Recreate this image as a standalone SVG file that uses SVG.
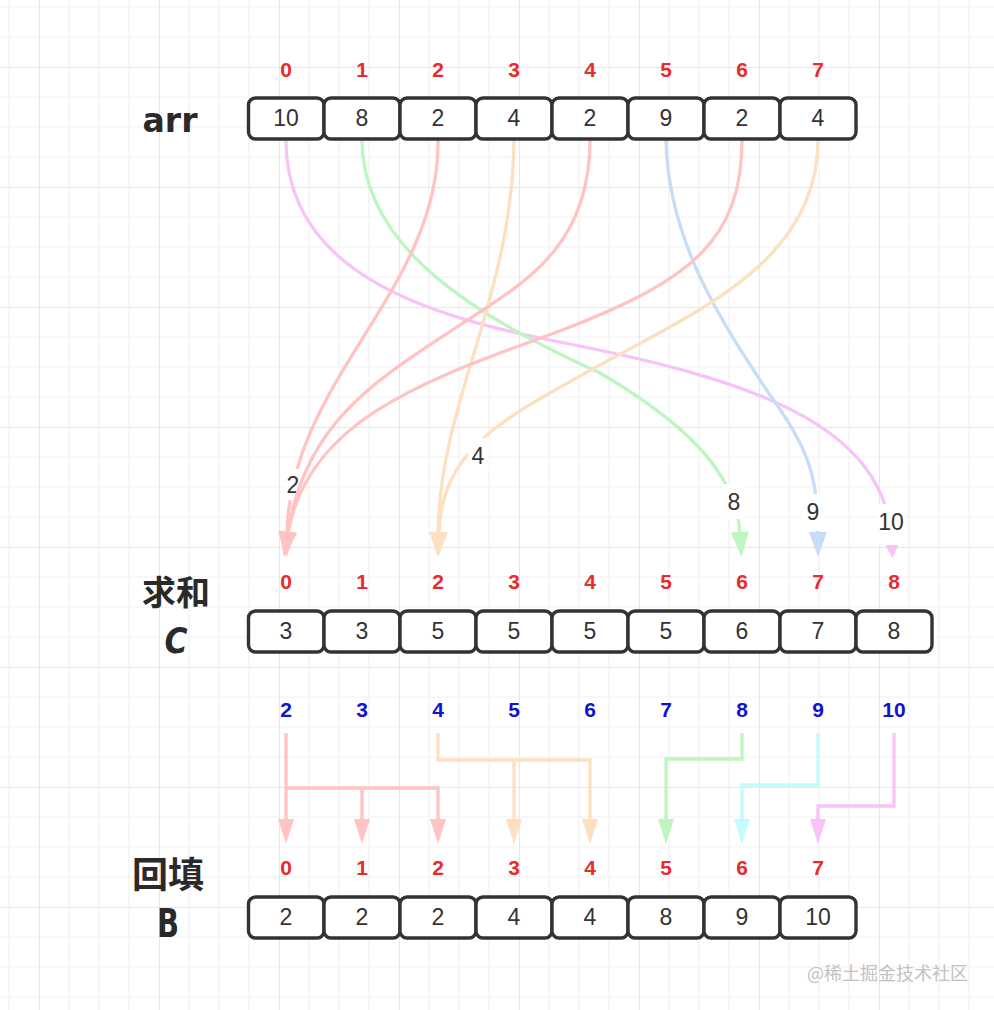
<svg xmlns="http://www.w3.org/2000/svg" width="994" height="1010" viewBox="0 0 994 1010">
<style>
.box{fill:#fff;stroke:#333;stroke-width:3.4}
.val{font-family:"Liberation Sans",Arial,sans-serif;font-size:23px;fill:#333;text-anchor:middle}
.idx{font-family:"Liberation Sans",Arial,sans-serif;font-size:21px;font-weight:bold;fill:#e92b2b;text-anchor:middle}
.bidx{font-family:"Liberation Sans",Arial,sans-serif;font-size:21px;font-weight:bold;fill:#1212d0;text-anchor:middle}
.ttl{font-family:"DejaVu Sans","Noto Sans CJK SC",sans-serif;font-weight:bold;fill:#2a2a2a;text-anchor:middle}
.lbl{font-family:"Liberation Sans",Arial,sans-serif;font-size:23px;fill:#333;text-anchor:middle}
.lbg{fill:#fff}
.c{fill:none;stroke-width:3.3}
.red{stroke:#ffc3c3}.org{stroke:#fde0c0}.grn{stroke:#bdf6c0}.blu{stroke:#c6dcf7}.pnk{stroke:#f7c3f8}.cyn{stroke:#c4fbfb}
</style>
<defs>
<pattern id="grid" patternUnits="userSpaceOnUse" x="39" y="67" width="120" height="120">
<path d="M30,0V120M60,0V120M90,0V120M0,30H120M0,60H120M0,90H120" stroke="#f1f1f1" stroke-width="1.2" fill="none"/>
<path d="M0,0V120M0,0H120" stroke="#e6e6e6" stroke-width="2" fill="none"/>
</pattern>
<marker id="m-red" markerUnits="userSpaceOnUse" markerWidth="26" markerHeight="20" refX="1" refY="9" orient="auto" overflow="visible"><path d="M0,0L25,9L0,18z" fill="#ffc3c3"/></marker>
<marker id="m-org" markerUnits="userSpaceOnUse" markerWidth="26" markerHeight="20" refX="1" refY="9" orient="auto" overflow="visible"><path d="M0,0L25,9L0,18z" fill="#fde0c0"/></marker>
<marker id="m-grn" markerUnits="userSpaceOnUse" markerWidth="26" markerHeight="20" refX="1" refY="9" orient="auto" overflow="visible"><path d="M0,0L25,9L0,18z" fill="#bdf6c0"/></marker>
<marker id="m-blu" markerUnits="userSpaceOnUse" markerWidth="26" markerHeight="20" refX="1" refY="9" orient="auto" overflow="visible"><path d="M0,0L25,9L0,18z" fill="#c6dcf7"/></marker>
<marker id="m-pnk" markerUnits="userSpaceOnUse" markerWidth="16" markerHeight="16" refX="1" refY="7" orient="auto" overflow="visible"><path d="M0,0L14,7L0,14z" fill="#f7c3f8"/></marker>
<marker id="m-redb" markerUnits="userSpaceOnUse" markerWidth="26" markerHeight="18" refX="1" refY="8" orient="auto" overflow="visible"><path d="M0,0L25,8L0,16z" fill="#ffc3c3"/></marker>
<marker id="m-orgb" markerUnits="userSpaceOnUse" markerWidth="26" markerHeight="18" refX="1" refY="8" orient="auto" overflow="visible"><path d="M0,0L25,8L0,16z" fill="#fde0c0"/></marker>
<marker id="m-grnb" markerUnits="userSpaceOnUse" markerWidth="26" markerHeight="18" refX="1" refY="8" orient="auto" overflow="visible"><path d="M0,0L25,8L0,16z" fill="#bdf6c0"/></marker>
<marker id="m-cynb" markerUnits="userSpaceOnUse" markerWidth="26" markerHeight="18" refX="1" refY="8" orient="auto" overflow="visible"><path d="M0,0L25,8L0,16z" fill="#c4fbfb"/></marker>
<marker id="m-pnkb" markerUnits="userSpaceOnUse" markerWidth="26" markerHeight="18" refX="1" refY="8" orient="auto" overflow="visible"><path d="M0,0L25,8L0,16z" fill="#f7c3f8"/></marker>
</defs>
<rect width="994" height="1010" fill="#fff"/>
<rect width="994" height="1010" fill="url(#grid)"/>

<g id="connectors">
<path class="c pnk" d="M286,140 C286,270 420,315 560,342 C740,378 888,420 892,545" marker-end="url(#m-pnk)"/>
<path class="c grn" d="M362,140 C362,250 480,318 600,373 C680,420 736,470 740,533" marker-end="url(#m-grn)"/>
<path class="c red" d="M438,140 C440,290 290,380 287,533" marker-end="url(#m-red)"/>
<rect class="lbg" x="284" y="469" width="17" height="31"/>
<text class="lbl" x="293" y="493">2</text>
<path class="c org" d="M514,140 C512,300 440,400 438,533" marker-end="url(#m-org)"/>
<path class="c red" d="M590,140 C590,250 520,285 460,325 C380,378 305,420 288,533" marker-end="url(#m-red)"/>
<path class="c blu" d="M666,140 C668,240 720,320 770,395 C810,450 818,480 818,533" marker-end="url(#m-blu)"/>
<path class="c red" d="M742,140 C742,240 690,280 570,327 C450,373 310,410 288,533" marker-end="url(#m-red)"/>
<path class="c org" d="M818,140 C818,260 700,310 600,365 C500,420 442,450 439,533" marker-end="url(#m-org)"/>
<rect class="lbg" x="468" y="438" width="21" height="31"/>
<text class="lbl" x="478" y="464">4</text>
<rect class="lbg" x="722" y="484" width="24" height="35"/>
<text class="lbl" x="734" y="510">8</text>
<rect class="lbg" x="801" y="494" width="24" height="37"/>
<text class="lbl" x="813" y="520">9</text>
<rect class="lbg" x="877" y="504" width="28" height="41"/>
<text class="lbl" x="891" y="530">10</text>

<path class="c red" d="M286,733V820" marker-end="url(#m-redb)"/>
<path class="c red" d="M286,788H438V820" marker-end="url(#m-redb)"/>
<path class="c red" d="M362,788V820" marker-end="url(#m-redb)"/>
<path class="c org" d="M438,733V760H590V820" marker-end="url(#m-orgb)"/>
<path class="c org" d="M514,760V820" marker-end="url(#m-orgb)"/>
<path class="c grn" d="M742,733V759H666V820" marker-end="url(#m-grnb)"/>
<path class="c cyn" d="M818,733V785H742V820" marker-end="url(#m-cynb)"/>
<path class="c pnk" d="M894,733V806H818V820" marker-end="url(#m-pnkb)"/>
</g>

<g id="arr">
<text class="ttl" x="170" y="132" font-size="34" textLength="55" lengthAdjust="spacingAndGlyphs">arr</text>
<text class="idx" x="286" y="77">0</text><text class="idx" x="362" y="77">1</text><text class="idx" x="438" y="77">2</text><text class="idx" x="514" y="77">3</text><text class="idx" x="590" y="77">4</text><text class="idx" x="666" y="77">5</text><text class="idx" x="742" y="77">6</text><text class="idx" x="818" y="77">7</text>
<rect class="box" x="248.5" y="98" width="75.5" height="41" rx="7"/>
<rect class="box" x="324" y="98" width="76" height="41" rx="7"/>
<rect class="box" x="400" y="98" width="76" height="41" rx="7"/>
<rect class="box" x="476" y="98" width="76" height="41" rx="7"/>
<rect class="box" x="552" y="98" width="76" height="41" rx="7"/>
<rect class="box" x="628" y="98" width="76" height="41" rx="7"/>
<rect class="box" x="704" y="98" width="76" height="41" rx="7"/>
<rect class="box" x="780" y="98" width="76" height="41" rx="7"/>
<text class="val" x="286" y="126">10</text><text class="val" x="362" y="126">8</text><text class="val" x="438" y="126">2</text><text class="val" x="514" y="126">4</text><text class="val" x="590" y="126">2</text><text class="val" x="666" y="126">9</text><text class="val" x="742" y="126">2</text><text class="val" x="818" y="126">4</text>
</g>

<g id="sumC">
<text class="ttl" x="176" y="605" font-size="34" font-family="Noto Sans CJK SC, sans-serif">求和</text>
<text class="ttl" x="176" y="653" font-size="36" font-style="italic" textLength="23" lengthAdjust="spacingAndGlyphs">C</text>
<text class="idx" x="286" y="589">0</text><text class="idx" x="362" y="589">1</text><text class="idx" x="438" y="589">2</text><text class="idx" x="514" y="589">3</text><text class="idx" x="590" y="589">4</text><text class="idx" x="666" y="589">5</text><text class="idx" x="742" y="589">6</text><text class="idx" x="818" y="589">7</text><text class="idx" x="894" y="589">8</text>
<rect class="box" x="248.5" y="611" width="75.5" height="41" rx="7"/>
<rect class="box" x="324" y="611" width="76" height="41" rx="7"/>
<rect class="box" x="400" y="611" width="76" height="41" rx="7"/>
<rect class="box" x="476" y="611" width="76" height="41" rx="7"/>
<rect class="box" x="552" y="611" width="76" height="41" rx="7"/>
<rect class="box" x="628" y="611" width="76" height="41" rx="7"/>
<rect class="box" x="704" y="611" width="76" height="41" rx="7"/>
<rect class="box" x="780" y="611" width="76" height="41" rx="7"/>
<rect class="box" x="856" y="611" width="76" height="41" rx="7"/>
<text class="val" x="286" y="639">3</text><text class="val" x="362" y="639">3</text><text class="val" x="438" y="639">5</text><text class="val" x="514" y="639">5</text><text class="val" x="590" y="639">5</text><text class="val" x="666" y="639">5</text><text class="val" x="742" y="639">6</text><text class="val" x="818" y="639">7</text><text class="val" x="894" y="639">8</text>
</g>

<g id="countLabels">
<text class="bidx" x="286" y="717">2</text><text class="bidx" x="362" y="717">3</text><text class="bidx" x="438" y="717">4</text><text class="bidx" x="514" y="717">5</text><text class="bidx" x="590" y="717">6</text><text class="bidx" x="666" y="717">7</text><text class="bidx" x="742" y="717">8</text><text class="bidx" x="818" y="717">9</text><text class="bidx" x="894" y="717">10</text>
</g>

<g id="fillB">
<text class="ttl" x="168" y="888" font-size="36" font-family="Noto Sans CJK SC, sans-serif">回填</text>
<text class="ttl" x="168" y="937" font-size="39" textLength="22" lengthAdjust="spacingAndGlyphs">B</text>
<text class="idx" x="286" y="875">0</text><text class="idx" x="362" y="875">1</text><text class="idx" x="438" y="875">2</text><text class="idx" x="514" y="875">3</text><text class="idx" x="590" y="875">4</text><text class="idx" x="666" y="875">5</text><text class="idx" x="742" y="875">6</text><text class="idx" x="818" y="875">7</text>
<rect class="box" x="248.5" y="897" width="75.5" height="41" rx="7"/>
<rect class="box" x="324" y="897" width="76" height="41" rx="7"/>
<rect class="box" x="400" y="897" width="76" height="41" rx="7"/>
<rect class="box" x="476" y="897" width="76" height="41" rx="7"/>
<rect class="box" x="552" y="897" width="76" height="41" rx="7"/>
<rect class="box" x="628" y="897" width="76" height="41" rx="7"/>
<rect class="box" x="704" y="897" width="76" height="41" rx="7"/>
<rect class="box" x="780" y="897" width="76" height="41" rx="7"/>
<text class="val" x="286" y="925">2</text><text class="val" x="362" y="925">2</text><text class="val" x="438" y="925">2</text><text class="val" x="514" y="925">4</text><text class="val" x="590" y="925">4</text><text class="val" x="666" y="925">8</text><text class="val" x="742" y="925">9</text><text class="val" x="818" y="925">10</text>
</g>

<text x="968" y="980" font-family="Noto Sans CJK SC, sans-serif" font-size="18" fill="#c2c2c2" text-anchor="end">@稀土掘金技术社区</text>
</svg>
